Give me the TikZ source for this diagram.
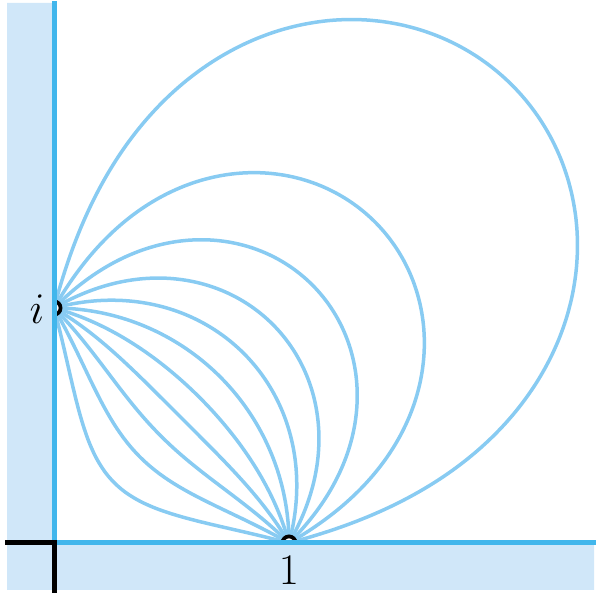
\documentclass[tikz,border=0pt]{standalone}
\usepackage{tikz}
\definecolor{curveblue}{RGB}{136,203,242}
\definecolor{axisblue}{RGB}{65,182,236}
\definecolor{shadeblue}{RGB}{208,231,249}
\tikzset{
  family/.style={draw=curveblue, line width=0.07cm, line join=round},
  axisline/.style={draw=axisblue, line width=0.1cm},
  cornerline/.style={draw=black, line width=0.1cm, line join=miter},
  marker/.style={draw=black, fill=white, line width=0.075cm},
  lab/.style={inner sep=0pt, font=\fontsize{24}{28}\selectfont},
  declare function={
    wu(\s,\t)=-sin(\s)/sin(\t);
    wv(\s,\t)=abs((cos(\s)-cos(\t))/sin(\t));
    wa(\s,\t)=atan2(wv(\s,\t),wu(\s,\t))/2;
    wq(\s,\t)=sqrt(veclen(wu(\s,\t),wv(\s,\t)));
  }
}
\begin{document}
\begin{tikzpicture}[x=4.7cm,y=4.7cm]
\useasboundingbox (-0.22979,-0.22128) rectangle (2.32340,2.31064);
% family of curves: square roots of circular arcs through -1 and 1
\foreach \th in {15,30,...,165}{
  \draw[family] plot[domain=-\th:\th, samples=160, smooth, variable=\s]
    ({wq(\s,\th)*cos(wa(\s,\th))},{wq(\s,\th)*sin(wa(\s,\th))});
}
\coordinate (I) at (0,1);
\coordinate (One) at (1,0);
\draw[marker] (I) circle[radius=0.028];
\draw[marker] (One) circle[radius=0.028];
% shaded strips
\fill[shadeblue] (-0.2,2.2979) -- (0,2.2979) -- (0,0) -- (2.2979,0)
  -- (2.2979,-0.2) -- (-0.2,-0.2) -- cycle;
% axes
\coordinate (O) at (0,0);
\coordinate (Top) at (0,2.3064);
\coordinate (Right) at (2.3064,0);
\draw[axisline] (O) -- (Top);
\draw[axisline] (O) -- (Right);
% corner
\coordinate (CL) at (-0.2085,0);
\coordinate (CB) at (0,-0.2128);
\draw[cornerline] (CL) -- (O) -- (CB);
% labels
\node[lab] (ilab) at (-0.0723,0.9957) {$i$};
\node[lab] (onelab) at (1.0,-0.117) {$1$};
\end{tikzpicture}
\end{document}
